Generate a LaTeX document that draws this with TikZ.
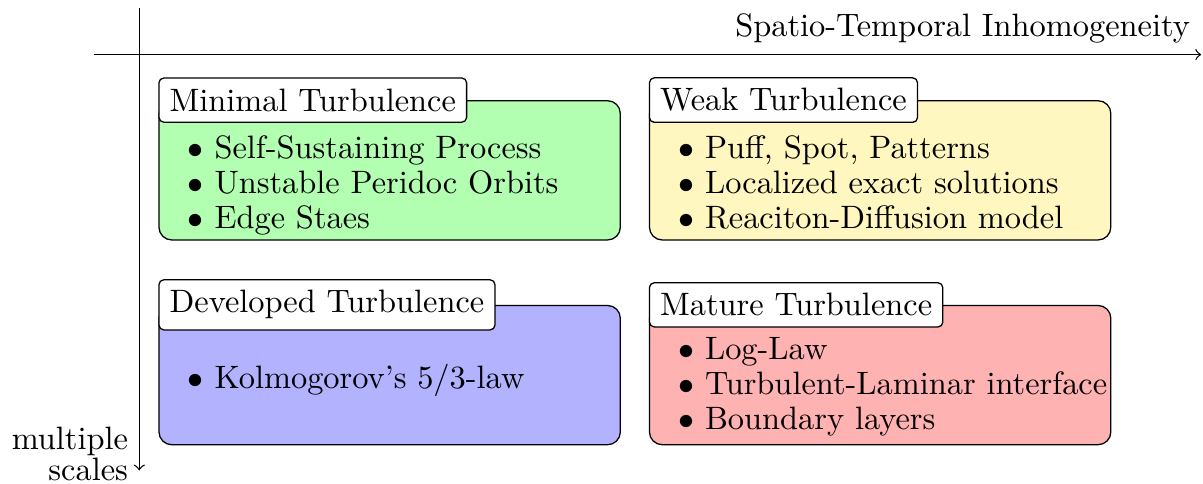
\documentclass[tikz,border=0pt]{standalone}
\usetikzlibrary{positioning}

\definecolor{weakfill}{RGB}{255,247,191}

\begin{document}
\begin{tikzpicture}[
    every node/.style={font=\fontsize{10.13}{12}\selectfont},
    panel/.style={draw, rounded corners=4pt, anchor=north west, minimum width=5.07cm, minimum height=1.53cm},
    tagbox/.style={draw, fill=white, rounded corners=1.5pt},
    items/.style={anchor=west, align=left, inner xsep=9pt, font=\fontsize{10.13}{11}\selectfont}
]
    \useasboundingbox (-1.53,0.6) rectangle (11.69,-4.71);

    % axes
    \coordinate (xstart) at (-0.5,0);
    \coordinate (xend) at (11.67,0);
    \coordinate (ystart) at (0,0.51);
    \coordinate (yend) at (0,-4.57);
    \draw[->] (xstart) -- (xend);
    \draw[->] (ystart) -- (yend);
    \node[above left] (xlabel) at (xend) {Spatio-Temporal Inhomogeneity};
    \node[anchor=base east, align=right, yshift=-3.2pt] (ylabel) at (yend) {multiple\\[-2.4pt]scales};

    % Minimal
    \node[panel, fill=green!30] (minimal) at (0.21,-0.5) {};
    \node[items] (minimal-list) at ([yshift=-4.7pt]minimal.west)
        {$\bullet$ Self-Sustaining Process\\ $\bullet$ Unstable Peridoc Orbits\\ $\bullet$ Edge Staes};
    \node[tagbox, right=0pt of minimal.north west] (minimal-tag) {Minimal Turbulence};

    % Weak
    \node[panel, fill=weakfill] (weak) at (5.6,-0.5) {};
    \node[items] (weak-list) at ([yshift=-3.8pt]weak.west)
        {$\bullet$ Puff, Spot, Patterns\\ $\bullet$ Localized exact solutions\\ $\bullet$ Reaciton-Diffusion model};
    \node[tagbox, right=0pt of weak.north west] (weak-tag) {Weak Turbulence};

    % Developed
    \node[panel, fill=blue!30] (developed) at (0.21,-2.75) {};
    \node[items] (developed-list) at ([yshift=-1.6pt]developed.west)
        {$\bullet$ Kolmogorov's 5/3-law};
    \node[tagbox, right=0pt of developed.north west] (developed-tag) {Developed Turbulence};

    % Mature
    \node[panel, fill=red!30] (mature) at (5.6,-2.75) {};
    \node[items] (mature-list) at ([yshift=-3.6pt]mature.west)
        {$\bullet$ Log-Law\\ $\bullet$ Turbulent-Laminar interface\\ $\bullet$ Boundary layers};
    \node[tagbox, right=0pt of mature.north west] (mature-tag) {Mature Turbulence};
\end{tikzpicture}
\end{document}
